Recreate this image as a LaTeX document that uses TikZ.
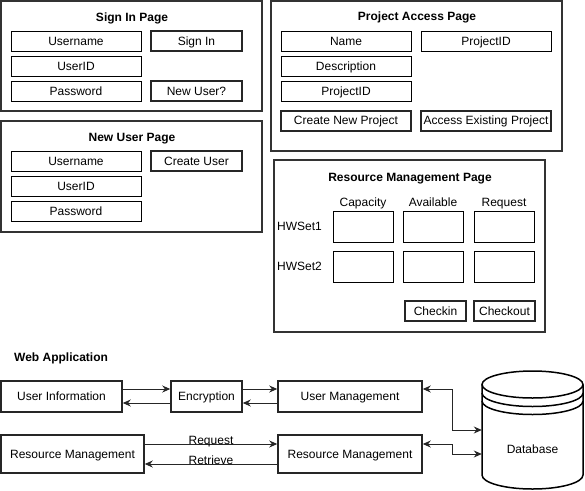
\documentclass[tikz,border=0pt]{standalone}
\usepackage{fontspec}
\setmainfont{Liberation Sans}
\usetikzlibrary{arrows.meta}
\begin{document}
\begin{tikzpicture}[x=1pt,y=1pt,
	every node/.style={font=\fontsize{12}{14}\selectfont,inner sep=0,text height=10pt,text depth=2pt},
	page/.style={draw=black!80,line width=1.5pt},
	title/.style={font=\fontsize{12}{14}\selectfont\bfseries},
	field/.style={draw,line width=0.9pt,minimum width=130,minimum height=20},
	btn/.style={draw=black!85,line width=2pt,minimum width=91,minimum height=20},
	cell/.style={draw,line width=0.9pt,minimum width=60,minimum height=31},
	block/.style={draw=black!85,line width=1.5pt,minimum height=31},
	link/.style={draw=black!85,line width=1pt,-{Stealth[length=8pt,width=7pt]}},
	dblink/.style={link,{Stealth[length=8pt,width=7pt]}-{Stealth[length=8pt,width=7pt]}}]
	\useasboundingbox (0,0) rectangle (585,-490);
	% sign in page
	\draw[page] (1,-1) rectangle (262,-111);
	\node[title] (signtitle) at (132,-17) {Sign In Page};
	\node[field] (signuser) at (76,-41) {Username};
	\node[field] (signid) at (76,-66) {UserID};
	\node[field] (signpw) at (76,-91) {Password};
	\node[btn] (signin) at (196.5,-41) {Sign In};
	\node[btn] (newuser) at (196.5,-91) {New User?};
	% new user page
	\draw[page] (1,-121) rectangle (262,-232);
	\node[title] (newtitle) at (132,-137) {New User Page};
	\node[field] (newname) at (76,-161) {Username};
	\node[field] (newid) at (76,-186) {UserID};
	\node[field] (newpw) at (76,-211) {Password};
	\node[btn] (create) at (196.5,-161) {Create User};
	% project access page
	\draw[page] (271,-1) rectangle (562,-151);
	\node[title] (projtitle) at (417,-16) {Project Access Page};
	\node[field] (projname) at (346,-41) {Name};
	\node[field] (projdesc) at (346,-66) {Description};
	\node[field] (projid) at (346,-91) {ProjectID};
	\node[field] (accessid) at (486,-41) {ProjectID};
	\node[btn,minimum width=130] (newproj) at (346,-120.5) {Create New Project};
	\node[btn,minimum width=130] (oldproj) at (486,-120.5) {Access Existing Project};
	% resource management page
	\draw[page] (274,-160) rectangle (545,-332);
	\node[title] (restitle) at (410,-177) {Resource Management Page};
	\foreach \c/\x/\t in {cap/363/Capacity,avail/433/Available,req/504/Request}{
		\node (\c) at (\x,-202) {\t};
		\node[cell] (\c1) at (\x,-226.5) {};
		\node[cell] (\c2) at (\x,-266.5) {};
	}
	\node[anchor=west] (hw1) at (277,-226.5) {HWSet1};
	\node[anchor=west] (hw2) at (277,-266.5) {HWSet2};
	\node[btn,minimum width=61] (checkin) at (435.5,-311) {Checkin};
	\node[btn,minimum width=61] (checkout) at (504.5,-311) {Checkout};
	% web application
	\node[title,anchor=west] (webapp) at (14,-357) {Web Application};
	\node[block,minimum width=121] (ui) at (61.5,-396.5) {User Information};
	\node[block,minimum width=71] (enc) at (206.5,-396.5) {Encryption};
	\node[block,minimum width=144] (um) at (350,-396.5) {User Management};
	\node[block,minimum width=143,minimum height=38] (resL) at (72.5,-454) {Resource Management};
	\node[block,minimum width=144,minimum height=38] (resR) at (350,-454) {Resource Management};
	\draw[line width=1.5pt,fill=white] (482,-384.5) -- (482,-475) arc[start angle=180,end angle=360,x radius=50.5,y radius=14] -- (583,-384.5);
	\draw[line width=1.5pt] (532.5,-384.5) ellipse[x radius=50.5,y radius=13.5];
	\draw[line width=1.5pt] (482,-393) arc[start angle=180,end angle=360,x radius=50.5,y radius=13.5];
	\draw[line width=1.5pt] (482,-401) arc[start angle=180,end angle=360,x radius=50.5,y radius=13.5];
	\node[minimum width=101,minimum height=80] (db) at (532.5,-449) {Database};
	\draw[link] ([yshift=7.5]ui.east) -- ([yshift=7.5]enc.west);
	\draw[link] ([yshift=-6.5]enc.west) -- ([yshift=-6.5]ui.east);
	\draw[link] ([yshift=7.5]enc.east) -- ([yshift=7.5]um.west);
	\draw[link] ([yshift=-6.5]um.west) -- ([yshift=-6.5]enc.east);
	\draw[link] ([yshift=10]resL.east) -- node[anchor=base] {Request} ([yshift=10]resR.west);
	\draw[link] ([yshift=-10]resR.west) -- node[anchor=base] {Retrieve} ([yshift=-10]resL.east);
	\draw[dblink] ([yshift=7.5]um.east) -- ++(30,0) |- ([yshift=19]db.west);
	\draw[dblink] ([yshift=10]resR.east) -- ++(30,0) |- ([yshift=-5]db.west);
\end{tikzpicture}
\end{document}
